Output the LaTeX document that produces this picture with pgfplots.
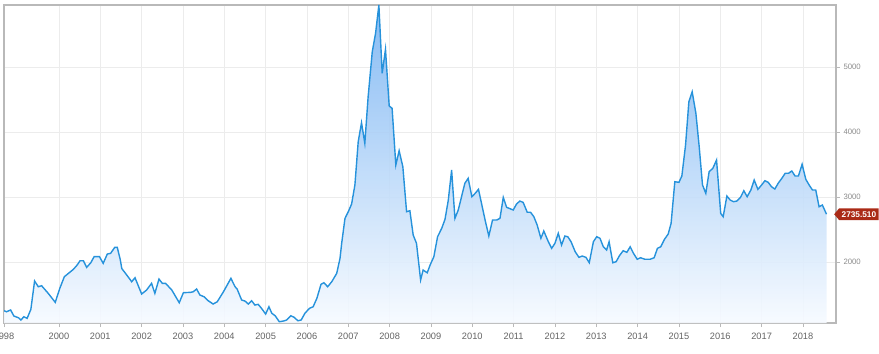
\documentclass[border=0pt]{standalone}
\usepackage{pgfplots}
\pgfplotsset{compat=1.18}
\usepackage{pgfplotstable}
\usepackage{fontspec}
\setmainfont{Liberation Sans}
\usetikzlibrary{shapes.symbols}

\definecolor{linec}{RGB}{38,146,219}
\definecolor{topc}{RGB}{122,180,242}
\definecolor{botc}{RGB}{246,250,255}
\definecolor{gridc}{RGB}{236,236,236}
\definecolor{framec}{RGB}{185,185,185}
\definecolor{tagc}{RGB}{170,42,22}
\definecolor{labc}{RGB}{100,100,100}

\pgfplotstableread{
year value
1998.67 1251
1998.73 1235
1998.83 1262
1998.91 1169
1999.02 1143
1999.08 1108
1999.15 1158
1999.23 1134
1999.32 1272
1999.41 1708
1999.50 1620
1999.58 1635
1999.74 1518
1999.91 1380
2000.02 1595
2000.13 1774
2000.23 1826
2000.35 1888
2000.44 1954
2000.51 2020
2000.59 2020
2000.67 1918
2000.77 1989
2000.85 2082
2000.98 2082
2001.07 1980
2001.17 2123
2001.25 2134
2001.35 2226
2001.41 2226
2001.48 2046
2001.52 1900
2001.64 1800
2001.76 1697
2001.84 1758
2002.00 1508
2002.12 1569
2002.24 1672
2002.32 1518
2002.42 1738
2002.50 1672
2002.58 1672
2002.73 1569
2002.91 1374
2003.01 1528
2003.19 1534
2003.25 1543
2003.33 1585
2003.41 1492
2003.51 1466
2003.61 1405
2003.73 1354
2003.83 1389
2003.98 1543
2004.16 1749
2004.26 1620
2004.31 1585
2004.42 1415
2004.50 1400
2004.58 1354
2004.66 1405
2004.74 1338
2004.82 1349
2004.90 1288
2005.00 1200
2005.08 1312
2005.15 1211
2005.23 1174
2005.33 1082
2005.43 1092
2005.51 1108
2005.61 1174
2005.69 1149
2005.78 1097
2005.86 1108
2005.95 1211
2006.06 1288
2006.15 1312
2006.24 1442
2006.34 1657
2006.41 1682
2006.50 1620
2006.60 1697
2006.72 1826
2006.80 2057
2006.84 2288
2006.92 2672
2007.00 2774
2007.08 2892
2007.16 3185
2007.24 3851
2007.32 4143
2007.40 3826
2007.48 4543
2007.58 5235
2007.66 5519
2007.74 5954
2007.82 4903
2007.90 5272
2007.99 4400
2008.06 4365
2008.15 3492
2008.23 3712
2008.32 3466
2008.41 2774
2008.49 2789
2008.57 2415
2008.65 2288
2008.75 1723
2008.81 1877
2008.91 1835
2008.98 1954
2009.07 2082
2009.16 2389
2009.26 2518
2009.34 2657
2009.42 2954
2009.50 3415
2009.58 2672
2009.66 2800
2009.74 3005
2009.82 3211
2009.90 3288
2009.99 3005
2010.07 3057
2010.15 3118
2010.31 2646
2010.40 2400
2010.49 2646
2010.59 2646
2010.67 2672
2010.75 2995
2010.83 2842
2010.99 2800
2011.07 2892
2011.15 2938
2011.23 2918
2011.33 2765
2011.41 2765
2011.49 2697
2011.57 2569
2011.66 2365
2011.73 2477
2011.84 2312
2011.92 2211
2012.00 2288
2012.08 2442
2012.16 2262
2012.24 2400
2012.31 2389
2012.39 2312
2012.49 2158
2012.58 2072
2012.66 2092
2012.75 2072
2012.83 1989
2012.93 2312
2013.01 2389
2013.09 2365
2013.17 2235
2013.25 2185
2013.31 2312
2013.40 1989
2013.48 2005
2013.56 2097
2013.65 2174
2013.74 2149
2013.82 2235
2013.90 2134
2013.99 2042
2014.07 2066
2014.18 2042
2014.30 2042
2014.40 2066
2014.48 2211
2014.56 2235
2014.65 2349
2014.74 2431
2014.81 2595
2014.90 3235
2015.00 3226
2015.07 3323
2015.16 3800
2015.24 4466
2015.32 4620
2015.41 4288
2015.49 3774
2015.57 3185
2015.65 3057
2015.73 3389
2015.82 3442
2015.91 3569
2016.01 2749
2016.07 2697
2016.16 3015
2016.24 2954
2016.32 2928
2016.40 2938
2016.49 2995
2016.57 3097
2016.65 3005
2016.74 3108
2016.82 3262
2016.91 3118
2017.00 3185
2017.08 3251
2017.16 3226
2017.24 3158
2017.32 3123
2017.40 3211
2017.49 3288
2017.57 3365
2017.65 3365
2017.73 3400
2017.81 3323
2017.89 3323
2017.98 3503
2018.07 3272
2018.15 3185
2018.23 3108
2018.31 3108
2018.39 2851
2018.47 2877
2018.57 2735.51
}\shdata

\begin{document}
\begin{tikzpicture}
\begin{axis}[
  scale only axis, width=832bp, height=318bp,
  xmin=1998.67, xmax=2018.80, ymin=1062, ymax=5954,
  axis line style={framec, line width=1.3bp},
  xtick={1998.67,2000,2001,2002,2003,2004,2005,2006,2007,2008,2009,2010,2011,2012,2013,2014,2015,2016,2017,2018},
  xticklabels={1998,2000,2001,2002,2003,2004,2005,2006,2007,2008,2009,2010,2011,2012,2013,2014,2015,2016,2017,2018},
  ytick={2000,3000,4000,5000},
  yticklabels={2000,3000,4000,5000},
  xtick pos=bottom, ytick pos=right, yticklabel pos=right,
  grid=major, major grid style={gridc, line width=0.8bp},
  tick align=outside, major tick length=4bp,
  tick style={framec, line width=0.8bp},
  xticklabel style={font=\fontsize{9.3}{10}\selectfont, text=labc, yshift=-3bp},
  yticklabel style={font=\fontsize{7.8}{9}\selectfont, text=labc!75},
  /pgf/number format/assume math mode=true,
]
\addplot[draw=none, top color=topc, bottom color=botc, fill opacity=0.9] table[x=year,y=value]{\shdata} \closedcycle;
\addplot[linec, line width=1.4bp, mark=none] table[x=year,y=value]{\shdata};
\coordinate (bl) at (rel axis cs:0,0);
\coordinate (tr) at (rel axis cs:1,1);
\coordinate (tagpt) at (axis cs:2018.75,2735.51);
\end{axis}
\node[shape=signal, signal to=west, signal pointer angle=100, fill=tagc, text=white,
  font=\bfseries\fontsize{8.3}{9}\selectfont, inner xsep=2.5bp, inner ysep=3bp, anchor=west] at (tagpt) {2735.510};
\pgfresetboundingbox
\path[use as bounding box] ([shift={(-4bp,-31bp)}]bl) rectangle ([shift={(43bp,5bp)}]tr);
\end{tikzpicture}
\end{document}
